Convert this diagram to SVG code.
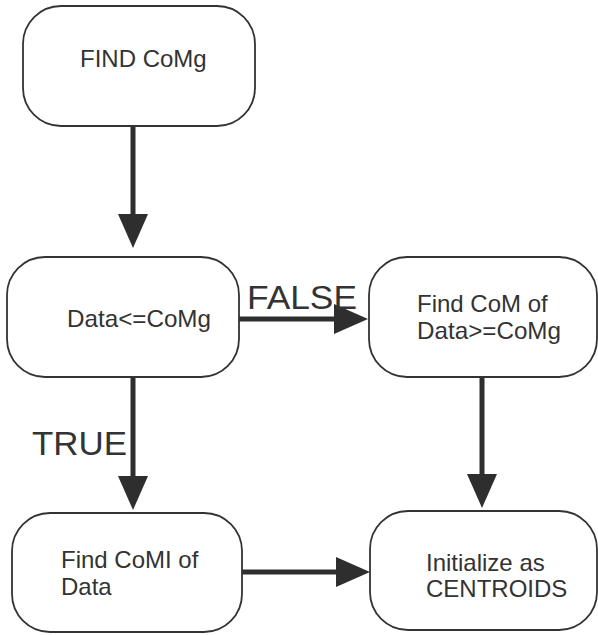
<svg xmlns="http://www.w3.org/2000/svg" width="598" height="635" viewBox="0 0 598 635">
  <style>
    .box { fill: #ffffff; stroke: #333333; stroke-width: 1.8; }
    .lbl { font-family: "Liberation Sans", Arial, sans-serif; font-size: 24px; fill: #333333; }
    .big { font-family: "Liberation Sans", Arial, sans-serif; font-size: 34px; fill: #333333; }
    .conn { stroke: #2e2e2e; stroke-width: 5; fill: none; marker-end: url(#ah); }
  </style>
  <defs>
    <marker id="ah" markerUnits="userSpaceOnUse" markerWidth="34" markerHeight="30" refX="4" refY="15" orient="auto">
      <path d="M0,0 L34,15 L0,30 z" fill="#2e2e2e"/>
    </marker>
  </defs>
  <rect width="598" height="635" fill="#ffffff"/>

  <g id="connectors">
    <path class="conn" d="M133,121 L133,218"/>
    <path class="conn" d="M239,319 L338,319"/>
    <path class="conn" d="M133,377 L133,480"/>
    <path class="conn" d="M482,377 L482,478"/>
    <path class="conn" d="M242,572 L340,572"/>
  </g>

  <g id="node-find-comg">
    <rect class="box" x="23" y="6" width="232" height="120" rx="38" ry="38"/>
    <text class="lbl" x="80" y="67">FIND CoMg</text>
  </g>

  <g id="node-decision">
    <rect class="box" x="7" y="257" width="232" height="120" rx="38" ry="38"/>
    <text class="lbl" x="67" y="327" textLength="144" lengthAdjust="spacingAndGlyphs">Data&lt;=CoMg</text>
  </g>

  <g id="node-find-com">
    <rect class="box" x="369" y="257" width="228" height="120" rx="38" ry="38"/>
    <text class="lbl" x="417" y="312">Find CoM of</text>
    <text class="lbl" x="417" y="339" textLength="144" lengthAdjust="spacingAndGlyphs">Data&gt;=CoMg</text>
  </g>

  <g id="node-find-comi">
    <rect class="box" x="12" y="513" width="230" height="119" rx="38" ry="38"/>
    <text class="lbl" x="61" y="568">Find CoMI of</text>
    <text class="lbl" x="61" y="595">Data</text>
  </g>

  <g id="node-initialize">
    <rect class="box" x="370" y="511" width="227" height="119" rx="38" ry="38"/>
    <text class="lbl" x="426" y="571">Initialize as</text>
    <text class="lbl" x="426" y="597">CENTROIDS</text>
  </g>

  <g id="labels">
    <text class="big" x="247" y="309" textLength="110" lengthAdjust="spacingAndGlyphs">FALSE</text>
    <text class="big" x="32" y="455" textLength="95" lengthAdjust="spacingAndGlyphs">TRUE</text>
  </g>
</svg>
